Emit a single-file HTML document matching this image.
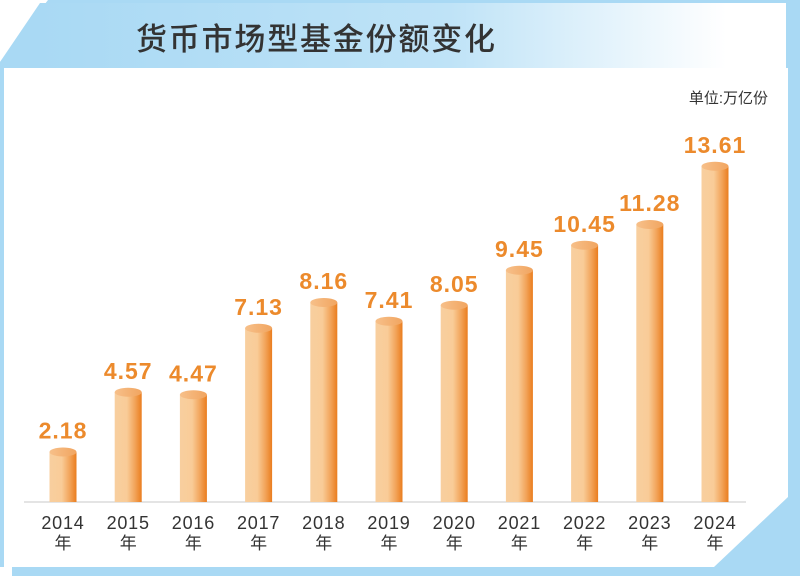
<!DOCTYPE html>
<html><head><meta charset="utf-8"><style>
html,body{margin:0;padding:0;background:#fff;}
svg{display:block;}
</style></head><body>
<svg width="800" height="576" viewBox="0 0 800 576" xmlns="http://www.w3.org/2000/svg">
<defs>
<linearGradient id="ban" x1="0" y1="0" x2="1" y2="0">
<stop offset="0" stop-color="#a9d9f4"/><stop offset="0.55" stop-color="#bfe3f7"/><stop offset="0.92" stop-color="#ffffff"/><stop offset="1" stop-color="#ffffff"/>
</linearGradient>
<linearGradient id="bar" x1="0" y1="0" x2="1" y2="0">
<stop offset="0" stop-color="#f8cf9f"/><stop offset="0.45" stop-color="#f9cc98"/><stop offset="0.75" stop-color="#f2a45a"/><stop offset="1" stop-color="#ea7d1e"/>
</linearGradient>
<linearGradient id="top" x1="0" y1="0" x2="1" y2="0">
<stop offset="0" stop-color="#f7c08a"/><stop offset="1" stop-color="#f1a560"/>
</linearGradient>
</defs>
<rect width="800" height="576" fill="#ffffff"/>
<polygon points="48,0 800,0 800,576 0,576 0,62" fill="#a9d9f4"/>
<rect x="40" y="3" width="746" height="65" fill="url(#ban)"/>
<polygon points="50,3 40,3 0,62 0,68" fill="#a9d9f4"/>
<polygon points="4,68 788,68 788,497 714,567 4,567" fill="#ffffff"/>
<rect x="0" y="567" width="12" height="9" fill="#ffffff"/>
<text x="136" y="50" font-family="Noto Sans CJK SC, sans-serif" font-size="31" font-weight="500" fill="#333" letter-spacing="1.8">货币市场型基金份额变化</text>
<text x="768" y="103" text-anchor="end" font-family="Liberation Sans, Noto Sans CJK SC, sans-serif" font-size="15" fill="#333">单位:万亿份</text>
<line x1="24" y1="502" x2="746" y2="502" stroke="#e4e4e4" stroke-width="2"/>
<g>
<rect x="49.5" y="452" width="27" height="50" fill="url(#bar)"/><ellipse cx="63" cy="452" rx="13.5" ry="4.5" fill="url(#top)"/>
<rect x="114.7" y="392.25" width="27" height="109.75" fill="url(#bar)"/><ellipse cx="128.2" cy="392.25" rx="13.5" ry="4.5" fill="url(#top)"/>
<rect x="179.9" y="394.75" width="27" height="107.25" fill="url(#bar)"/><ellipse cx="193.4" cy="394.75" rx="13.5" ry="4.5" fill="url(#top)"/>
<rect x="245.1" y="328.25" width="27" height="173.75" fill="url(#bar)"/><ellipse cx="258.6" cy="328.25" rx="13.5" ry="4.5" fill="url(#top)"/>
<rect x="310.3" y="302.5" width="27" height="199.5" fill="url(#bar)"/><ellipse cx="323.8" cy="302.5" rx="13.5" ry="4.5" fill="url(#top)"/>
<rect x="375.5" y="321.25" width="27" height="180.75" fill="url(#bar)"/><ellipse cx="389" cy="321.25" rx="13.5" ry="4.5" fill="url(#top)"/>
<rect x="440.7" y="305.25" width="27" height="196.75" fill="url(#bar)"/><ellipse cx="454.2" cy="305.25" rx="13.5" ry="4.5" fill="url(#top)"/>
<rect x="505.9" y="270.25" width="27" height="231.75" fill="url(#bar)"/><ellipse cx="519.4" cy="270.25" rx="13.5" ry="4.5" fill="url(#top)"/>
<rect x="571.1" y="245.25" width="27" height="256.75" fill="url(#bar)"/><ellipse cx="584.6" cy="245.25" rx="13.5" ry="4.5" fill="url(#top)"/>
<rect x="636.3" y="224.5" width="27" height="277.5" fill="url(#bar)"/><ellipse cx="649.8" cy="224.5" rx="13.5" ry="4.5" fill="url(#top)"/>
<rect x="701.5" y="166.25" width="27" height="335.75" fill="url(#bar)"/><ellipse cx="715" cy="166.25" rx="13.5" ry="4.5" fill="url(#top)"/>
</g>
<g font-family="Liberation Sans, sans-serif" font-weight="bold" font-size="23" fill="#ec8a2c" text-anchor="middle" letter-spacing="1">
<text x="63" y="438.5">2.18</text>
<text x="128.2" y="378.75">4.57</text>
<text x="193.4" y="381.25">4.47</text>
<text x="258.6" y="314.75">7.13</text>
<text x="323.8" y="289">8.16</text>
<text x="389" y="307.75">7.41</text>
<text x="454.2" y="291.75">8.05</text>
<text x="519.4" y="256.75">9.45</text>
<text x="584.6" y="231.75">10.45</text>
<text x="649.8" y="211">11.28</text>
<text x="715" y="152.75">13.61</text>
</g>
<g font-family="Liberation Sans, Noto Sans CJK SC, sans-serif" font-size="18" fill="#333" text-anchor="middle" letter-spacing="0.8">
<text x="63" y="529">2014</text><text x="128.2" y="529">2015</text><text x="193.4" y="529">2016</text><text x="258.6" y="529">2017</text><text x="323.8" y="529">2018</text><text x="389" y="529">2019</text><text x="454.2" y="529">2020</text><text x="519.4" y="529">2021</text><text x="584.6" y="529">2022</text><text x="649.8" y="529">2023</text><text x="715" y="529">2024</text>
</g>
<g font-family="Liberation Sans, Noto Sans CJK SC, sans-serif" font-size="17" fill="#333" text-anchor="middle">
<text x="63" y="549">年</text><text x="128.2" y="549">年</text><text x="193.4" y="549">年</text><text x="258.6" y="549">年</text><text x="323.8" y="549">年</text><text x="389" y="549">年</text><text x="454.2" y="549">年</text><text x="519.4" y="549">年</text><text x="584.6" y="549">年</text><text x="649.8" y="549">年</text><text x="715" y="549">年</text>
</g>
</svg>
</body></html>
